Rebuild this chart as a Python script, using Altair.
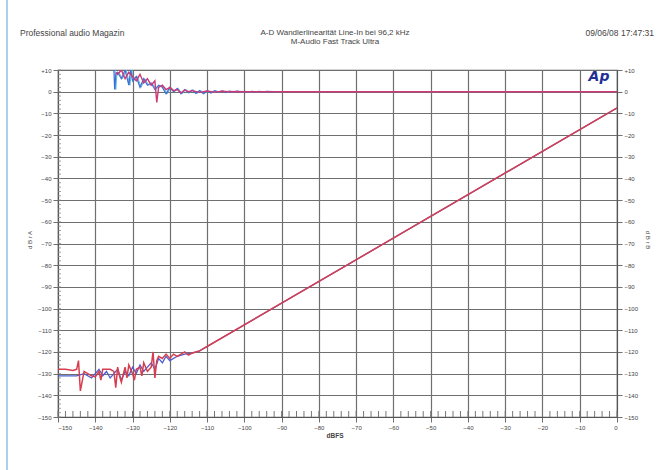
import altair as alt
import pandas as pd

# Level sweep: output level vs. generator level (channels A and B)
lvl_a_x = [-150, -148, -146, -145, -144.5, -144, -143, -142, -141, -140, -139, -138.5,
           -138, -137, -136, -135, -134.5, -134, -133.5, -133, -132, -131.5, -131, -130,
           -129.5, -129, -128, -127.5, -127, -126, -125, -124.5, -124, -123.5, -123, -122,
           -121, -120, -119, -118, -117, -116, -115, -114, -113, -112, -111, -110, 0]
lvl_a_y = [-128, -128, -128.5, -128, -124, -138, -129, -130, -131, -131.5, -129, -133,
           -128, -128, -128, -129, -136.5, -127, -131, -134, -127, -132, -126, -130,
           -133, -128, -127, -131, -125, -129, -127, -120, -132, -124, -122, -123,
           -121, -123, -121, -122, -121, -120, -121.5, -120.5, -120, -119.5, -118.5, -117.5, -7.5]

lvl_b_x = [-150, -147, -145, -143, -141, -140, -139, -138, -137, -136, -135, -134, -133,
           -132, -131, -130, -129, -128, -127, -126, -125, -124, -123, -122, -121, -120,
           -118, -116, -114, -112, -110, 0]
lvl_b_y = [-131, -131, -131, -130, -132, -130, -128, -131, -129, -132, -130, -128, -133,
           -129, -131, -127, -130, -126, -129, -127, -125, -128, -123, -125, -122, -124,
           -122, -121, -120.5, -119.5, -117.5, -7.5]

# Linearity deviation (dB) for channels A and B
dev_a_x = [-134.5, -134, -133, -132, -131, -130, -129, -128, -127, -126, -125, -124,
           -123.5, -123, -122, -121, -120, -119, -118, -117, -116, -115, -114, -112,
           -110, -108, -106, -104, -102, -100, 0]
dev_a_y = [9, 8, 10, 6, 9, 7, 5, 8, 4, 6, 3, 5, -5, 2, 3, 1, 2, 0.5, 1, -0.5, 0.8, 0,
           0.5, -0.3, 0.3, -0.2, 0.2, 0, 0.1, 0, 0]

dev_b_x = [-135, -134.8, -134.5, -134, -133, -132, -131, -130.5, -130, -129, -128, -127,
           -126, -125, -124, -123, -122, -121, -120, -119, -118, -117, -116, -115, -114,
           -113, -112, -111, -110, -109, -108, -107, -106, -105, -104, -103, -102, -101,
           -100, -99, -98, -97, -96, -95, -94, -92, -90]
dev_b_y = [10, 1, 8, 9, 6, 10, 3, 10, 5, 7, 2, 6, 3, 4, 1, 3, 2, -1, 2, 0, 1.5, -1, 1,
           -0.5, 0.8, -0.8, 0.5, -0.9, 0.4, -0.6, 0.5, -0.3, 0.4, -0.4, 0.3, -0.3, 0.3,
           -0.2, 0.2, -0.2, 0.2, -0.1, 0.1, -0.1, 0.1, 0, 0]

x_ticks = list(range(-150, 1, 10))
y_ticks = list(range(-150, 11, 10))
x_minor = list(range(-150, 1, 2))
y_minor = list(range(-150, 11, 2))

W, H = 559, 347
FONT = "Liberation Sans"
INK = "#444444"
GRID = "#6f6f6f"

xs = alt.Scale(domain=[-150, 0], nice=False, zero=False)
ys = alt.Scale(domain=[-150, 10], nice=False, zero=False)

x_axis = alt.Axis(values=x_ticks, grid=True, gridColor=GRID, gridWidth=1.2,
                  tickColor=GRID, tickSize=5, domainColor="#555", labelFontSize=6,
                  labelColor=INK, labelFont=FONT, labelPadding=2, title=None)
lab_expr = "datum.value > 0 ? '+' + datum.label : datum.label"
y_left = alt.Axis(values=y_ticks, orient="left", grid=True, gridColor=GRID, gridWidth=1.2,
                  tickColor=GRID, tickSize=5, domainColor="#555", labelFontSize=6,
                  labelColor=INK, labelFont=FONT, labelExpr=lab_expr, title=None)
y_right = alt.Axis(values=y_ticks, orient="right", grid=False, tickColor=GRID, tickSize=5,
                   domainColor="#555", labelFontSize=6, labelColor=INK, labelFont=FONT,
                   labelExpr=lab_expr, title=None)


def frame(xv, yv, series):
    return pd.DataFrame({"x": xv, "y": yv, "s": series})


def trace(df, color, width, y_axis=None):
    return alt.Chart(df).mark_line(color=color, strokeWidth=width, clip=True).encode(
        x=alt.X("x:Q", scale=xs, axis=x_axis),
        y=alt.Y("y:Q", scale=ys, axis=y_axis),
    )


level_b = trace(frame(lvl_b_x, lvl_b_y, "B"), "#4a5fd0", 1.3, y_left)
level_a = trace(frame(lvl_a_x, lvl_a_y, "A"), "#d63e50", 1.5)
dev_b = trace(frame(dev_b_x, dev_b_y, "B"), "#3b6fd8", 1.2)
dev_b2 = trace(frame([v + 0.3 for v in dev_b_x], dev_b_y, "B"), "#46b6d6", 0.9)
dev_a = trace(frame(dev_a_x, dev_a_y, "A"), "#cc3a78", 1.4, y_right)

minor_x = alt.Chart(pd.DataFrame({"x": x_minor})).mark_rule(
    color="#777", strokeWidth=1).encode(
    x=alt.X("x:Q", scale=xs, axis=x_axis), y=alt.value(H), y2=alt.value(H - 6))
minor_y = alt.Chart(pd.DataFrame({"y": y_minor})).mark_rule(
    color="#888", strokeWidth=0.8).encode(
    y=alt.Y("y:Q", scale=ys, axis=None), x=alt.value(0), x2=alt.value(3))


def label(txt, x, y, size=8, align="left", weight="normal", color=INK, angle=0,
          style="normal", font=FONT):
    return alt.Chart(pd.DataFrame({"t": [txt]})).mark_text(
        align=align, baseline="middle", fontSize=size, fontWeight=weight, color=color,
        angle=angle, font=font, fontStyle=style).encode(
        text="t:N", x=alt.value(x), y=alt.value(y))


texts = [
    label("Professional audio Magazin", -38, -37, size=8.5),
    label("A-D Wandlerlinearität Line-In bei 96,2 kHz", 277, -37, size=8, align="center"),
    label("M-Audio Fast Track Ultra", 277, -28, size=8, align="center"),
    label("09/06/08 17:47:31", 596, -37, size=8.5, align="right"),
    label("d B r A", -28, 170, size=6, align="center", angle=270),
    label("d B r B", 590, 170, size=6, align="center", angle=90),
    label("dBFS", 277, 366, size=6.5, align="center", weight="bold"),
    label("Ap", 541, 7, size=14, align="center", weight="bold", color="#1f2f96",
          style="italic", font="DejaVu Sans"),
]

side = alt.Chart(pd.DataFrame({"v": [0]})).mark_rule(color="#a9d1ee", strokeWidth=2).encode(
    x=alt.value(-51), y=alt.value(-75), y2=alt.value(410))

chart = alt.layer(
    minor_x, minor_y, level_b, level_a, dev_b2, dev_b, dev_a, side, *texts
).resolve_axis(y="independent").properties(
    width=W, height=H,
    autosize=alt.AutoSizeParams(type="none"),
    padding={"left": 58, "top": 70, "right": 48, "bottom": 53},
    background="white",
).configure_view(stroke="#555", strokeWidth=1.2)

chart.save("out.html", embed_options={"renderer": "svg", "actions": False})
